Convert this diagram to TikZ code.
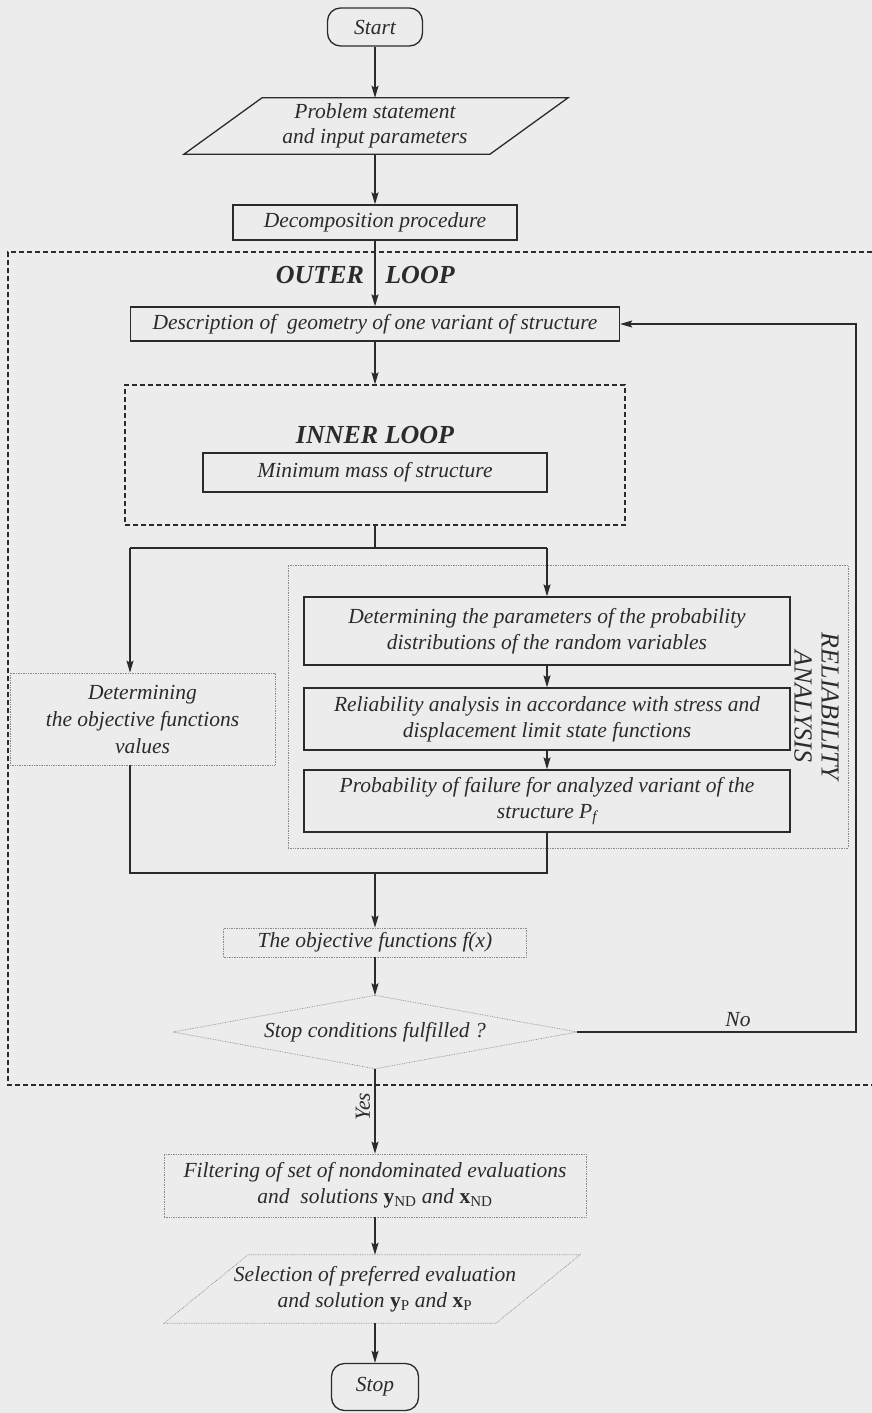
\documentclass[tikz,border=0pt]{standalone}
\usepackage{fontspec}
\setmainfont{Liberation Serif}
\usetikzlibrary{arrows.meta,calc}
\definecolor{ink}{HTML}{2B2B2B}
\definecolor{paper}{HTML}{ECECEC}
\definecolor{faint}{HTML}{8A8A8A}
\tikzset{
  txt/.style={text=ink, font=\fontsize{21.5}{26}\selectfont\itshape, align=center, inner sep=0pt},
  box/.style={txt, draw=ink, line width=1.3pt, rectangle},
  fbox/.style={txt, draw=faint, densely dotted, line width=0.7pt, rectangle},
  fline/.style={draw=faint, densely dotted, line width=0.7pt},
  term/.style={txt, draw=ink, line width=1.3pt, rounded corners=13pt},
  ghost/.style={txt, draw=none, rectangle},
  conn/.style={draw=ink, line width=1.3pt},
  arr/.style={conn, -{Stealth[length=12pt,width=7pt,inset=2pt]}},
  loopbox/.style={draw=ink, line width=1.3pt, dash pattern=on 5pt off 3pt},
  looplabel/.style={txt, font=\fontsize{26}{30}\selectfont\bfseries\itshape},
}
\begin{document}
\begin{tikzpicture}[x=1pt,y=-1pt]
\fill[paper] (0,0) rectangle (872,1413);
\useasboundingbox (0,0) rectangle (872,1413);

% top part
\node[term, minimum width=95pt, minimum height=38pt] (start) at (375,27) {Start};
\node[ghost, minimum width=230pt, minimum height=56pt, font=\fontsize{21.5}{25}\selectfont\itshape] (prob) at (375,126) {Problem statement\\and input parameters};
\draw[conn] ($(prob.north)+(-113,0)$) -- ($(prob.north)+(193,0)$) -- ($(prob.south)+(115,0)$) -- ($(prob.south)+(-191,0)$) -- cycle;
\node[box, minimum width=284pt, minimum height=35pt] (decomp) at (375,222.5) {Decomposition procedure};

% outer loop
\draw[loopbox] (872,252) -- (8,252) -- (8,1085) -- (872,1085);
\node[looplabel] (outerA) at (320,275) {OUTER};
\node[looplabel] (outerB) at (420,275) {LOOP};
\node[box, minimum width=489pt, minimum height=34pt] (desc) at (375,324) {Description of\ \ geometry of one variant of structure};

% inner loop
\node[loopbox, minimum width=500pt, minimum height=140pt, inner sep=0pt] (inner) at (375,455) {};
\node[looplabel] (innerlbl) at (375,435) {INNER LOOP};
\node[box, minimum width=344pt, minimum height=39pt] (minmass) at (375,472.5) {Minimum mass of structure};

% reliability group
\node[fbox, minimum width=560pt, minimum height=283pt] (relgrp) at (568,706.5) {};
\node[txt, rotate=-90, font=\fontsize{26}{27}\selectfont\itshape] (rellbl) at (816.5,706.5) {RELIABILITY\\ANALYSIS};
\node[box, minimum width=486pt, minimum height=68pt] (box1) at (547,631) {Determining the parameters of the probability\\distributions of the random variables};
\node[box, minimum width=486pt, minimum height=62pt] (box2) at (547,719) {Reliability analysis in accordance with stress and\\displacement limit state functions};
\node[box, minimum width=486pt, minimum height=62pt] (box3) at (547,801) {Probability of failure for analyzed variant of the\\structure P\textsubscript{f}};

\node[fbox, minimum width=265pt, minimum height=92pt, font=\fontsize{21.5}{27}\selectfont\itshape] (detobj) at (142.5,719) {Determining\\the objective functions\\values};

\node[fbox, minimum width=303pt, minimum height=29pt] (objf) at (375,942.5) {The objective functions f(x)};
\node[ghost, minimum width=404pt, minimum height=73pt] (stopc) at (375,1032) {Stop conditions fulfilled ?};
\draw[fline] (stopc.north) -- (stopc.east) -- (stopc.south) -- (stopc.west) -- cycle;
\node[txt] (nolbl) at (738,1020) {No};
\node[txt, rotate=90] (yeslbl) at (363,1107) {Yes};

\node[fbox, minimum width=422pt, minimum height=63pt] (filt) at (375,1185.5) {Filtering of set of nondominated evaluations\\and\ \ solutions \textup{\textbf{y}\textsubscript{ND}} and \textup{\textbf{x}\textsubscript{ND}}};
\node[ghost, minimum width=250pt, minimum height=68pt] (sel) at (375,1289) {Selection of preferred evaluation\\and solution \textup{\textbf{y}\textsubscript{P}} and \textup{\textbf{x}\textsubscript{P}}};
\draw[fline] ($(sel.north)+(-127,0)$) -- ($(sel.north)+(205,0)$) -- ($(sel.south)+(121,0)$) -- ($(sel.south)+(-211,0)$) -- cycle;
\node[term, minimum width=87pt, minimum height=47pt] (stop) at (375,1387) {Stop};

% coordinates
\coordinate (sp) at (375,548);
\coordinate (spl) at (130,548);
\coordinate (spr) at (547,548);
\coordinate (jl) at (130,873);
\coordinate (jr) at (547,873);
\coordinate (jm) at (375,873);
\coordinate (fbr) at (856,1032);

% connectors
\draw[arr] (start) -- (prob);
\draw[arr] (prob) -- (decomp);
\draw[arr] (decomp) -- (desc);
\draw[arr] (desc) -- (inner.north);
\draw[conn] (inner.south) -- (sp);
\draw[conn] (spl) -- (spr);
\draw[arr] (spl) -- (spl |- detobj.north);
\draw[arr] (spr) -- (box1.north);
\draw[arr] (box1) -- (box2);
\draw[arr] (box2) -- (box3);
\draw[conn] (jl |- detobj.south) -- (jl) -- (jr) -- (box3.south);
\draw[arr] (jm) -- (objf.north);
\draw[arr] (objf) -- (stopc.north);
\draw[arr] (stopc.east) -- (fbr) -- (fbr |- desc.east) -- (desc.east);
\draw[arr] (stopc.south) -- (filt.north);
\draw[arr] (filt) -- (sel.north);
\draw[arr] (sel.south) -- (stop);
\end{tikzpicture}
\end{document}
